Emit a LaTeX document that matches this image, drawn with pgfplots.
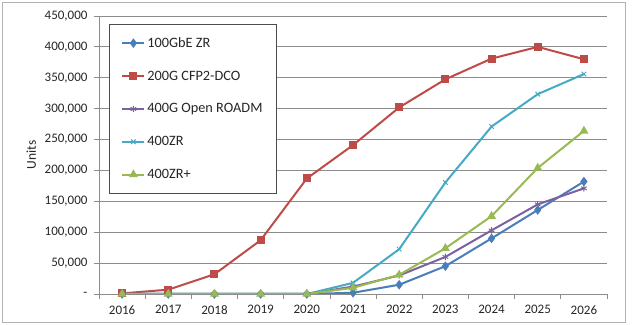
\documentclass[border=0pt]{standalone}
\usepackage{pgfplots}
\pgfplotsset{compat=1.18}
\usepackage{fontspec}
\setmainfont{Carlito}
\definecolor{cblue}{HTML}{4A7EBB}
\definecolor{cred}{HTML}{BE4B48}
\definecolor{cpurple}{HTML}{7D60A0}
\definecolor{ccyan}{HTML}{46AAC5}
\definecolor{cgreen}{HTML}{98B954}
\definecolor{cgrid}{HTML}{8C8C8C}
\begin{document}
\begin{tikzpicture}
\begin{axis}[
  name=ax,
  scale only axis, width=508bp, height=278bp,
  xmin=-0.5, xmax=10.5, ymin=0, ymax=450000,
  xtick={0,...,10},
  xticklabels={2016,2017,2018,2019,2020,2021,2022,2023,2024,2025,2026},
  minor xtick={-0.5,0.5,...,10.5},
  ytick={0,50000,...,450000},
  yticklabels={{-},{50,000},{100,000},{150,000},{200,000},{250,000},{300,000},{350,000},{400,000},{450,000}},
  scaled y ticks=false,
  /pgf/number format/assume math mode=true,
  axis x line*=bottom, axis y line*=left,
  axis line style={draw=cgrid, line width=0.8bp, -},
  tick align=outside,
  major tick length=5bp, minor tick length=5bp,
  major x tick style={draw=none},
  minor x tick style={draw=cgrid, line width=0.8bp},
  y tick style={draw=cgrid, line width=0.8bp},
  ymajorgrids, major grid style={draw=cgrid, line width=0.8bp},
  tick label style={font=\fontsize{13bp}{15bp}\selectfont, text=black!85},
  yticklabel style={xshift=-3bp},
  xticklabel style={yshift=-3bp},
  ylabel={Units},
  ylabel style={font=\fontsize{13.5bp}{15bp}\selectfont, text=black!85, yshift=2bp},
  legend style={at={(0.0197,0.971)}, anchor=north west, draw=black!70, line width=0.8bp,
    font=\fontsize{14.3bp}{16bp}\selectfont, text=black!85, row sep=18bp,
    inner xsep=12bp, inner ysep=11bp},
  legend cell align=left,
  legend image code/.code={\draw[mark repeat=2,mark phase=2] plot coordinates {(0bp,0bp) (11bp,0bp) (22bp,0bp)};},
  every axis plot/.append style={line width=2bp, mark size=3.2bp},
]
\addplot[cblue, mark=diamond*, mark options={fill=cblue}] coordinates {
(0,0) (1,0) (2,0) (3,0) (4,0) (5,2000) (6,15000) (7,45000) (8,90000) (9,136000) (10,182000)};
\addlegendentry{100GbE ZR}
\addplot[cred, mark=square*, mark size=3bp, mark options={fill=cred}] coordinates {
(0,1000) (1,7000) (2,32000) (3,87000) (4,187000) (5,241000) (6,302000) (7,347500) (8,381000) (9,400000) (10,380000)};
\addlegendentry{200G CFP2-DCO}
\addplot[cpurple, mark=asterisk, mark options={line width=1bp}] coordinates {
(0,0) (1,0) (2,0) (3,0) (4,0) (5,12000) (6,30000) (7,60000) (8,103000) (9,145000) (10,171000)};
\addlegendentry{400G Open ROADM}
\addplot[ccyan, mark=x, mark options={line width=1bp}] coordinates {
(0,0) (1,0) (2,0) (3,0) (4,0) (5,18000) (6,72500) (7,180500) (8,271000) (9,323500) (10,356000)};
\addlegendentry{400ZR}
\addplot[cgreen, mark=triangle*, mark options={fill=cgreen}] coordinates {
(0,0) (1,0) (2,0) (3,0) (4,0) (5,10000) (6,31000) (7,74000) (8,126000) (9,204000) (10,264000)};
\addlegendentry{400ZR+}
\end{axis}
\draw[black!30, line width=1bp] ([xshift=-96bp,yshift=-28bp]ax.south west) rectangle ([xshift=18bp,yshift=13bp]ax.north east);
\useasboundingbox ([xshift=-99bp,yshift=-31bp]ax.south west) rectangle ([xshift=26bp,yshift=16bp]ax.north east);
\end{tikzpicture}
\end{document}
